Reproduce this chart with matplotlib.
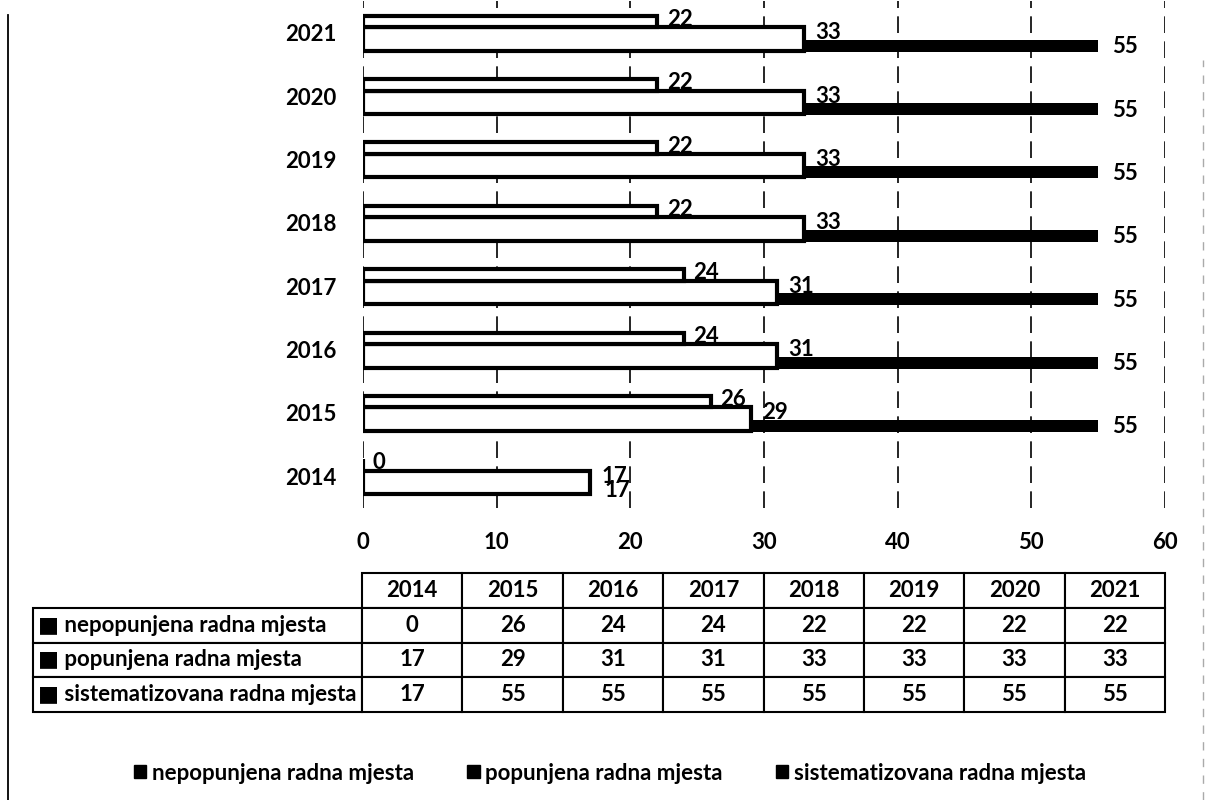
import numpy as np
import matplotlib
matplotlib.use("Agg")
from matplotlib import pyplot as plt
from matplotlib.patches import Patch
from matplotlib.lines import Line2D
from matplotlib.table import Table

plt.rcParams['font.family'] = ['Lato', 'DejaVu Sans']
plt.rcParams['font.weight'] = 'bold'

years = ['2014', '2015', '2016', '2017', '2018', '2019', '2020', '2021']
nepopunjena = [0, 26, 24, 24, 22, 22, 22, 22]
popunjena = [17, 29, 31, 31, 33, 33, 33, 33]
sistematizovana = [17, 55, 55, 55, 55, 55, 55, 55]
series_names = ['nepopunjena radna mjesta', 'popunjena radna mjesta',
                'sistematizovana radna mjesta']

W, H = 1205, 800
fig = plt.figure(figsize=(W / 100, H / 100), dpi=100)
fig.patch.set_facecolor('white')

# bar chart area (pixel measurements from the reference)
ax = fig.add_axes([363 / W, 1 - 508 / H, (1165 - 363) / W, (508 - 1) / H])
y = np.arange(len(years))

# sistematizovana behind, popunjena over it, nepopunjena on top
ax.barh(y - 0.205, sistematizovana, height=0.19, color='black', zorder=2)
ax.barh(y - 0.099, popunjena, height=0.37, color='white', edgecolor='black',
        linewidth=3, zorder=3)
ax.barh(y + 0.177, nepopunjena, height=0.181, color='white', edgecolor='black',
        linewidth=3, zorder=4)

fs = 16
for i in range(len(years)):
    ax.annotate(str(nepopunjena[i]), (nepopunjena[i], y[i] + 0.19), xytext=(7, 1),
                textcoords='offset points', va='center', ha='left', fontsize=fs, zorder=5)
    ax.annotate(str(popunjena[i]), (popunjena[i], y[i] + 0.0), xytext=(8, 0),
                textcoords='offset points', va='center', ha='left', fontsize=fs, zorder=5)
    ax.annotate(str(sistematizovana[i]), (sistematizovana[i], y[i] - 0.22), xytext=(10, 0),
                textcoords='offset points', va='center', ha='left', fontsize=fs, zorder=5)

ax.set_xlim(0, 60)
ax.set_ylim(-0.5, 7.5)
ax.set_xticks(np.arange(0, 61, 10))
ax.set_yticks(y)
ax.set_yticklabels(years)
ax.tick_params(axis='x', length=0, pad=17, labelsize=fs)
ax.tick_params(axis='y', length=0, pad=19, labelsize=fs)
ax.grid(axis='x', color='black', linewidth=1.2, linestyle=(0, (10, 5)), zorder=1)
for s in ax.spines.values():
    s.set_visible(False)

# data table under the chart
tax = fig.add_axes([33 / W, 1 - 712 / H, (1165 - 33) / W, (712 - 573) / H])
tax.axis('off')
tb = Table(tax, bbox=[0, 0, 1, 1])
first_w = 329 / 1132
col_w = (1 - first_w) / len(years)
row_h = 1 / 4
tb.add_cell(0, 0, first_w, row_h, text='', loc='left').set_linewidth(0)
for j, yr in enumerate(years):
    tb.add_cell(0, j + 1, col_w, row_h, text=yr, loc='center')
data_rows = [nepopunjena, popunjena, sistematizovana]
for r, (name, vals) in enumerate(zip(series_names, data_rows)):
    c = tb.add_cell(r + 1, 0, first_w, row_h, text='\u25a0 ' + name, loc='left')
    c.PAD = 0.015
    for j, v in enumerate(vals):
        tb.add_cell(r + 1, j + 1, col_w, row_h, text=str(v), loc='center')
tb.auto_set_font_size(False)
tb.set_fontsize(fs)
for key, cell in tb.get_celld().items():
    if key != (0, 0):
        cell.set_linewidth(1.5)
        cell.set_edgecolor('black')
tax.add_table(tb)

# legend
handles = [Patch(facecolor='black', edgecolor='black') for _ in series_names]
fig.legend(handles, series_names, loc='center', bbox_to_anchor=(610 / W, 1 - 773 / H),
           ncol=3, frameon=False, fontsize=fs, handlelength=0.55, handleheight=0.55,
           handletextpad=0.25, columnspacing=2.4)

# chart border remnants
fig.add_artist(Line2D([8 / W, 8 / W], [0, 1 - 15 / H], transform=fig.transFigure,
                      color='black', linewidth=1.3))
fig.add_artist(Line2D([1203 / W, 1203 / W], [0, 1 - 60 / H], transform=fig.transFigure,
                      color='#aaaaaa', linewidth=1, linestyle=(0, (6, 6))))

fig.savefig('out.png', dpi=100)
